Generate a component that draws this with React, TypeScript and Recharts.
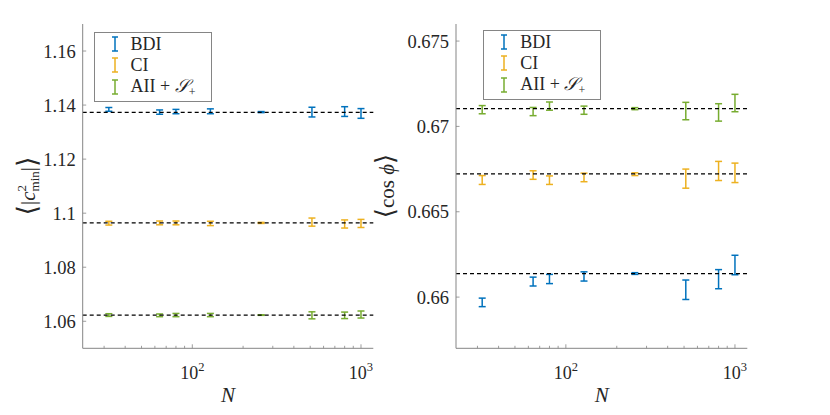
import React from "react";
import {
  ComposedChart,
  Scatter,
  ErrorBar,
  XAxis,
  YAxis,
  ReferenceLine,
  Legend,
} from "recharts";

document.body.style.margin = "0";

// system sizes
const N = [32, 64, 80, 128, 256, 512, 800, 1000];

const SERIES_NAMES = ["BDI", "CI", "AII"];
const SERIES_COLORS = ["#0072BD", "#EDB120", "#77AC30"];

// <|c^2_min|>
const bdiC = [1.1384, 1.1374, 1.1376, 1.1377, 1.1374, 1.1374, 1.1376, 1.1369];
const bdiCErr = [0.0007, 0.0008, 0.0008, 0.0009, 0.0002, 0.0018, 0.0018, 0.0018];
const ciC = [1.0963, 1.0964, 1.0964, 1.0962, 1.0964, 1.0967, 1.096, 1.0962];
const ciCErr = [0.0007, 0.0007, 0.0007, 0.0008, 0.0002, 0.0015, 0.0015, 0.0015];
const aiiC = [1.0623, 1.0622, 1.0623, 1.0623, 1.0623, 1.0622, 1.0622, 1.0625];
const aiiCErr = [0.0005, 0.0005, 0.0006, 0.0006, 0.0001, 0.0013, 0.0012, 0.0013];
const fitC = [1.1373, 1.0964, 1.0623];

// <cos phi>
const bdiP = [0.65969, 0.66091, 0.66106, 0.66121, 0.66138, 0.66043, 0.66105, 0.66188];
const bdiPErr = [0.00025, 0.00026, 0.00027, 0.00027, 0.00005, 0.00057, 0.00056, 0.00057];
const ciP = [0.66686, 0.66715, 0.66685, 0.66701, 0.6672, 0.66694, 0.66739, 0.66728];
const ciPErr = [0.00026, 0.00025, 0.00025, 0.00025, 0.00008, 0.00056, 0.00056, 0.00057];
const aiiP = [0.67098, 0.67087, 0.67119, 0.67095, 0.67104, 0.6709, 0.67082, 0.67137];
const aiiPErr = [0.00024, 0.00024, 0.00024, 0.00024, 0.00006, 0.00051, 0.00051, 0.00051];
const fitP = [0.66137, 0.66722, 0.67104];

const X_DOMAIN = [22.4, 1183];
const X_TICKS = [30, 40, 50, 60, 70, 80, 90, 100, 200, 300, 400, 500, 600, 700, 800, 900, 1000];
const X_MAJOR = [100, 1000];
const X_MAJOR_EXP = ["2", "3"];

const C_DOMAIN = [1.05, 1.17];
const C_TICKS = [1.06, 1.08, 1.1, 1.12, 1.14, 1.16];
const C_TICK_LABELS = ["1.06", "1.08", "1.1", "1.12", "1.14", "1.16"];

const P_DOMAIN = [0.657, 0.676];
const P_TICKS = [0.66, 0.665, 0.67, 0.675];
const P_TICK_LABELS = ["0.66", "0.665", "0.67", "0.675"];

const SERIF = "'Liberation Serif', 'Times New Roman', 'DejaVu Serif', serif";
const FRAME = "#858585";
const TEXT = "#262626";

function BottomTick({ x, y, payload }: any) {
  const i = X_MAJOR.indexOf(payload.value);
  return (
    <g>
      <line x1={x} x2={x} y1={y} y2={y - (i >= 0 ? 4 : 2.5)} stroke={FRAME} strokeWidth={0.8} />
      {i >= 0 && (
        <text x={x} y={y + 31} textAnchor="middle" fontFamily={SERIF} fontSize={18} fill={TEXT}>
          10
          <tspan dy={-8} fontSize={12.5}>
            {X_MAJOR_EXP[i]}
          </tspan>
        </text>
      )}
    </g>
  );
}

function TopTick({ x, y, payload }: any) {
  const major = X_MAJOR.includes(payload.value);
  return <line x1={x} x2={x} y1={y} y2={y + (major ? 4 : 2.5)} stroke={FRAME} strokeWidth={0.8} />;
}

function makeLeftTick(ticks: number[], labels: string[]) {
  return ({ x, y, payload }: any) => (
    <g>
      <line x1={x} x2={x + 3.5} y1={y} y2={y} stroke={FRAME} strokeWidth={0.8} />
      <text x={x - 7} y={y} dy="0.35em" textAnchor="end" fontFamily={SERIF} fontSize={18.5} fill={TEXT}>
        {labels[ticks.indexOf(payload.value)]}
      </text>
    </g>
  );
}

function RightTick({ x, y }: any) {
  return <line x1={x} x2={x - 3.5} y1={y} y2={y} stroke={FRAME} strokeWidth={0.8} />;
}

function ErrIcon({ color }: { color: string }) {
  return (
    <svg width={8} height={16} style={{ display: "block" }}>
      <line x1={4} x2={4} y1={1} y2={15} stroke={color} strokeWidth={1.5} />
      <line x1={1} x2={7} y1={1} y2={1} stroke={color} strokeWidth={1.5} />
      <line x1={1} x2={7} y1={15} y2={15} stroke={color} strokeWidth={1.5} />
    </svg>
  );
}

function LegendBox() {
  const labels = [
    <span>BDI</span>,
    <span>CI</span>,
    <span>
      AII + <span style={{ fontStyle: "italic" }}>𝒮</span>
      <span style={{ fontSize: 12, position: "relative", top: 4 }}>+</span>
    </span>,
  ];
  return (
    <div
      style={{
        position: "relative",
        width: 116,
        height: 68,
        border: `1px solid ${FRAME}`,
        background: "#fff",
        fontFamily: SERIF,
        fontSize: 18,
        color: TEXT,
      }}
    >
      {SERIES_NAMES.map((name, i) => (
        <div
          key={name}
          style={{ position: "absolute", left: 16, top: 3 + i * 21.7, height: 16, display: "flex", alignItems: "center" }}
        >
          <ErrIcon color={SERIES_COLORS[i]} />
          <div style={{ marginLeft: 12, lineHeight: "16px", whiteSpace: "nowrap" }}>{labels[i]}</div>
        </div>
      ))}
    </div>
  );
}

function CLabel() {
  const cx = 28;
  const cy = 186;
  return (
    <text
      transform={`rotate(-90 ${cx} ${cy})`}
      x={cx}
      y={cy + 7}
      textAnchor="middle"
      fontFamily={SERIF}
      fontSize={21}
      fill={TEXT}
    >
      <tspan fontSize={27} dy={1}>⟨</tspan>
      <tspan dy={-1}>|</tspan>
      <tspan fontStyle="italic">c</tspan>
      <tspan fontSize={13} dy={-9}>2</tspan>
      <tspan fontSize={13} dx={-6.5} dy={13}>min</tspan>
      <tspan dy={-4}>|</tspan>
      <tspan fontSize={27} dy={1}>⟩</tspan>
    </text>
  );
}

function PLabel() {
  const cx = 28;
  const cy = 186;
  return (
    <text
      transform={`rotate(-90 ${cx} ${cy})`}
      x={cx}
      y={cy + 6}
      textAnchor="middle"
      fontFamily={SERIF}
      fontSize={21}
      fill={TEXT}
    >
      <tspan fontSize={26}>⟨</tspan>
      <tspan>cos </tspan>
      <tspan fontStyle="italic">ϕ</tspan>
      <tspan fontSize={26}>⟩</tspan>
    </text>
  );
}

interface PanelProps {
  left: number;
  width: number;
  yWidth: number;
  rightMargin: number;
  domain: number[];
  ticks: number[];
  tickLabels: string[];
  values: number[][];
  errors: number[][];
  fits: number[];
  legendLeft: number;
  legendTop: number;
  yLabel: () => React.ReactElement;
  xLabelX: number;
}

function Panel(p: PanelProps) {
  const LeftTick = makeLeftTick(p.ticks, p.tickLabels);
  return (
    <div style={{ position: "absolute", left: p.left, top: 0 }}>
      <ComposedChart width={p.width} height={415} margin={{ top: 24, right: p.rightMargin, bottom: 36.7, left: 0 }}>
        <XAxis
          xAxisId="b"
          dataKey="x"
          type="number"
          scale="log"
          domain={X_DOMAIN}
          ticks={X_TICKS}
          interval={0}
          tickSize={0}
          tickMargin={0}
          tick={BottomTick}
          axisLine={{ stroke: FRAME }}
          height={30}
          allowDataOverflow
          label={() => (
            <text x={p.xLabelX} y={401.7} textAnchor="middle" fontFamily={SERIF} fontSize={21} fontStyle="italic" fill={TEXT}>
              N
            </text>
          )}
        />
        <XAxis
          xAxisId="t"
          orientation="top"
          type="number"
          scale="log"
          domain={X_DOMAIN}
          ticks={X_TICKS}
          interval={0}
          tickSize={0}
          tickMargin={0}
          tick={TopTick}
          axisLine={{ stroke: FRAME }}
          height={0}
          allowDataOverflow
        />
        <YAxis
          yAxisId="l"
          dataKey="y"
          type="number"
          domain={p.domain}
          ticks={p.ticks}
          interval={0}
          tickSize={0}
          tickMargin={0}
          tick={LeftTick}
          axisLine={{ stroke: FRAME }}
          width={p.yWidth}
          allowDataOverflow
          label={p.yLabel}
        />
        <YAxis
          yAxisId="r"
          orientation="right"
          type="number"
          domain={p.domain}
          ticks={p.ticks}
          interval={0}
          tickSize={0}
          tickMargin={0}
          tick={RightTick}
          axisLine={{ stroke: FRAME }}
          width={0}
          allowDataOverflow
        />
        {p.values.map((vals, s) => (
          <Scatter
            key={SERIES_NAMES[s]}
            name={SERIES_NAMES[s]}
            xAxisId="b"
            yAxisId="l"
            data={N.map((n, i) => ({ x: n, y: vals[i], err: p.errors[s][i] }))}
            fill={SERIES_COLORS[s]}
            shape={() => <g />}
            isAnimationActive={false}
          >
            <ErrorBar
              dataKey="err"
              direction="y"
              width={3.5}
              stroke={SERIES_COLORS[s]}
              strokeWidth={1.5}
              isAnimationActive={false}
            />
          </Scatter>
        ))}
        {p.fits.map((f, i) => (
          <ReferenceLine
            key={i}
            xAxisId="b"
            yAxisId="l"
            y={f}
            stroke="#000"
            strokeWidth={1.2}
            strokeDasharray="4 3"
          />
        ))}
        <Legend
          layout="vertical"
          align="center"
          verticalAlign="middle"
          wrapperStyle={{ left: p.legendLeft, top: p.legendTop, width: "auto" }}
          content={() => <LegendBox />}
        />
      </ComposedChart>
    </div>
  );
}

export default function App() {
  return (
    <div style={{ position: "relative", width: 830, height: 415, background: "#fff" }}>
      <Panel
        left={0}
        width={415}
        yWidth={82.7}
        rightMargin={41.7}
        domain={C_DOMAIN}
        ticks={C_TICKS}
        tickLabels={C_TICK_LABELS}
        values={[bdiC, ciC, aiiC]}
        errors={[bdiCErr, ciCErr, aiiCErr]}
        fits={fitC}
        legendLeft={93.5}
        legendTop={31.5}
        yLabel={CLabel}
        xLabelX={228}
      />
      <Panel
        left={360}
        width={470}
        yWidth={96}
        rightMargin={82.7}
        domain={P_DOMAIN}
        ticks={P_TICKS}
        tickLabels={P_TICK_LABELS}
        values={[bdiP, ciP, aiiP]}
        errors={[bdiPErr, ciPErr, aiiPErr]}
        fits={fitP}
        legendLeft={123.3}
        legendTop={29.5}
        yLabel={PLabel}
        xLabelX={241.7}
      />
    </div>
  );
}
